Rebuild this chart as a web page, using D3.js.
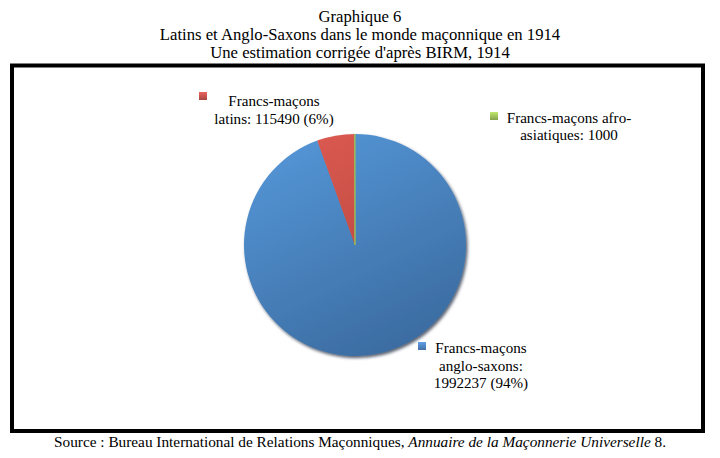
<!DOCTYPE html>
<html>
<head>
<meta charset="utf-8">
<script src="https://cdn.jsdelivr.net/npm/d3@7"></script>
<style>
  html, body { margin: 0; padding: 0; background: #fff; }
  svg { display: block; }
</style>
</head>
<body>
<svg id="chart" width="720" height="458"></svg>
<script>
// Data
const categories = ["Francs-maçons anglo-saxons", "Francs-maçons latins", "Francs-maçons afro-asiatiques"];
const values = [1992237, 115490, 1000];
const labelLines = [
    ["Francs-maçons", "anglo-saxons:", "1992237 (94%)"],
    ["Francs-maçons", "latins: 115490 (6%)"],
    ["Francs-maçons afro-", "asiatiques: 1000"]
];
const titleLines = [
    "Graphique 6",
    "Latins et Anglo-Saxons dans le monde maçonnique en 1914",
    "Une estimation corrigée d'après BIRM, 1914"
];

const WIDTH = 720;
const FONT = '"Liberation Serif", "Times New Roman", serif';
const PIE_CX = 355;
const PIE_CY = 245;
const PIE_R = 111;

// label anchor (centre x, first baseline) and marker position, per slice
const labelPos = [
    { x: 481, y: 353, mx: 418, my: 342, lh: 17.5 },
    { x: 274, y: 106, mx: 199, my: 92, lh: 17.8 },
    { x: 569, y: 123, mx: 490, my: 112, lh: 16.5 }
];

const colors = [
    { light: "#5495d6", dark: "#3a6a9e", marker: "#4f81bd" },
    { light: "#dc5a51", dark: "#ad403b", marker: "#c0504d" },
    { light: "#a9cc66", dark: "#7e9a45", marker: "#9bbb59" }
];

const svg = d3.select("#chart");
const defs = svg.append("defs");

colors.forEach((c, i) => {
    // slices sit in a group centred on the pie, so gradient coords are relative to centre
    const g = defs.append("linearGradient")
        .attr("id", "grad" + i)
        .attr("gradientUnits", "userSpaceOnUse")
        .attr("x1", -PIE_R * 0.5).attr("y1", -PIE_R)
        .attr("x2", PIE_R * 0.5).attr("y2", PIE_R);
    g.append("stop").attr("offset", "0%").attr("stop-color", c.light);
    g.append("stop").attr("offset", "100%").attr("stop-color", c.dark);

    const m = defs.append("linearGradient")
        .attr("id", "mgrad" + i)
        .attr("x1", 0).attr("y1", 0).attr("x2", 0).attr("y2", 1);
    m.append("stop").attr("offset", "0%").attr("stop-color", d3.color(c.marker).brighter(0.6));
    m.append("stop").attr("offset", "100%").attr("stop-color", d3.color(c.marker).darker(0.4));
});

const shadow = defs.append("filter").attr("id", "shadow")
    .attr("x", "-20%").attr("y", "-20%").attr("width", "140%").attr("height", "140%");
shadow.append("feDropShadow")
    .attr("dx", 1.5).attr("dy", 2)
    .attr("stdDeviation", 1.5)
    .attr("flood-color", "#0a1a30")
    .attr("flood-opacity", 0.7);

// title
svg.append("g").selectAll("text").data(titleLines).join("text")
    .attr("x", WIDTH / 2)
    .attr("y", (d, i) => 22 + i * 18)
    .attr("text-anchor", "middle")
    .style("font-family", FONT)
    .attr("font-size", 16.7)
    .attr("fill", "#000")
    .text(d => d);

// frame
svg.append("rect")
    .attr("x", 12).attr("y", 65.5)
    .attr("width", 691).attr("height", 365.5)
    .attr("fill", "none")
    .attr("stroke", "#000")
    .attr("stroke-width", 4);

// pie
const pie = d3.pie().sort(null).value(d => d);
const arc = d3.arc().innerRadius(0).outerRadius(PIE_R);
const arcs = pie(values);

const pieG = svg.append("g")
    .attr("transform", `translate(${PIE_CX},${PIE_CY})`)
    .attr("filter", "url(#shadow)");

pieG.selectAll("path").data(arcs).join("path")
    .attr("d", arc)
    .attr("fill", (d, i) => `url(#grad${i})`)
    .attr("stroke", (d, i) => i === 2 ? colors[2].marker : "none")
    .attr("stroke-width", 1);

// labels
const labG = svg.append("g");
arcs.forEach((a, i) => {
    const p = labelPos[i];
    labG.append("rect")
        .attr("x", p.mx).attr("y", p.my)
        .attr("width", 8).attr("height", 8)
        .attr("fill", `url(#mgrad${i})`);
    labG.append("text")
        .attr("text-anchor", "middle")
        .style("font-family", FONT)
        .attr("font-size", 15.1)
        .attr("fill", "#000")
        .selectAll("tspan").data(labelLines[i]).join("tspan")
        .attr("x", p.x)
        .attr("y", (d, j) => p.y + j * p.lh)
        .text(d => d);
});

// source line
const src = svg.append("text")
    .attr("x", WIDTH / 2)
    .attr("y", 447)
    .attr("text-anchor", "middle")
    .style("font-family", FONT)
    .attr("font-size", 15.3)
    .attr("fill", "#000");
src.append("tspan").text("Source : Bureau International de Relations Maçonniques, ");
src.append("tspan").attr("font-style", "italic").text("Annuaire de la Maçonnerie Universelle");
src.append("tspan").text(" 8.");
</script>
</body>
</html>
